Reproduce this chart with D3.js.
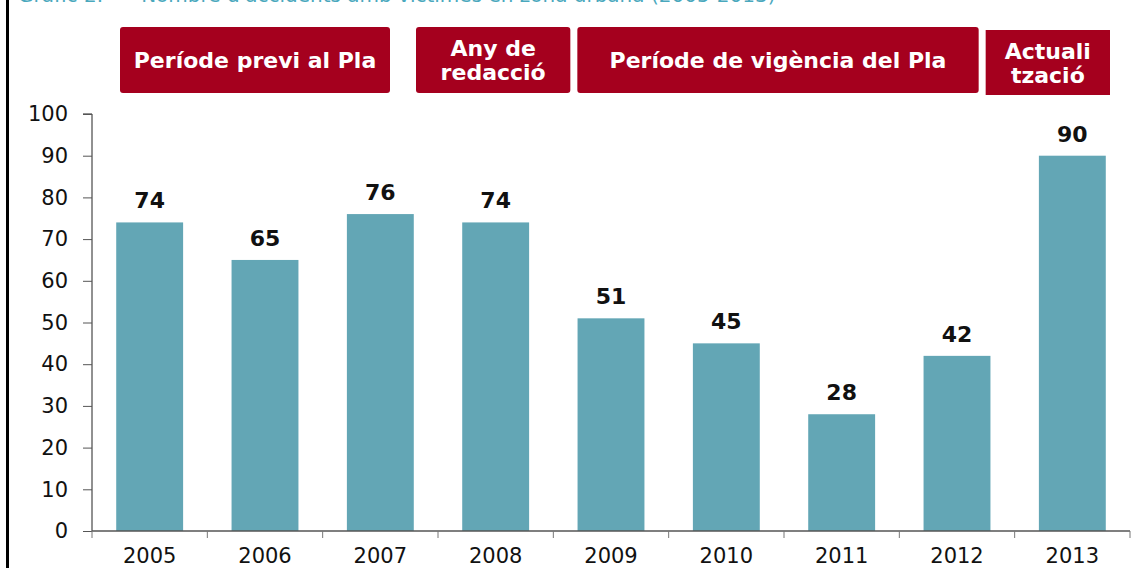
<!DOCTYPE html>
<html>
<head>
<meta charset="utf-8">
<script src="https://cdnjs.cloudflare.com/ajax/libs/d3/7.8.5/d3.min.js"></script>
<style>
  body { margin: 0; background: #fff; }
  svg { display: block; font-family: "DejaVu Sans", Verdana, sans-serif; }
</style>
</head>
<body>
<script>
// accidents amb víctimes en zona urbana
var years = ["2005", "2006", "2007", "2008", "2009", "2010", "2011", "2012", "2013"];
var accidents = [74, 65, 76, 74, 51, 45, 28, 42, 90];
var yTicks = [0, 10, 20, 30, 40, 50, 60, 70, 80, 90, 100];

// period banners: text lines, first and last year covered
var periodLabels = [["Període previ al Pla"], ["Any de", "redacció"], ["Període de vigència del Pla"], ["Actuali", "tzació"]];
var periodFrom = [0, 3, 4, 8];
var periodTo = [2, 3, 7, 8];

var W = 1138, H = 568;
var margin = { left: 92, right: 1130, top: 114, bottom: 531 };

var svg = d3.select("body").append("svg")
    .attr("width", W)
    .attr("height", H);

// cut-off title at very top
svg.append("text")
    .attr("x", 18)
    .attr("y", 2)
    .attr("fill", "#4aa8bd")
    .attr("font-size", 20)
    .attr("xml:space", "preserve")
    .text("Gràfic 2.      Nombre d'accidents amb víctimes en zona urbana (2005-2013)");

// black frame line on the left
svg.append("line")
    .attr("x1", 7.5).attr("x2", 7.5)
    .attr("y1", 0).attr("y2", H)
    .attr("stroke", "#000")
    .attr("stroke-width", 3);

var x = d3.scaleBand().domain(years).range([margin.left, margin.right]).paddingInner(0.42).paddingOuter(0.21);
var y = d3.scaleLinear().domain([0, 100]).range([margin.bottom, margin.top]);
var step = x.step();
function edge(i) { return margin.left + i * step; }

// banners (offsets from category edges)
var offs = [[28, -48], [-22, 17], [24, -36], [-29, -20]];
var bannerTop = [27, 27, 27, 30];
var bannerH = [66, 66, 66, 65];
periodLabels.forEach(function (lines, i) {
    var x0 = edge(periodFrom[i]) + offs[i][0];
    var x1 = edge(periodTo[i] + 1) + offs[i][1];
    var g = svg.append("g");
    g.append("rect")
        .attr("x", x0).attr("y", bannerTop[i])
        .attr("width", x1 - x0).attr("height", bannerH[i])
        .attr("rx", i == 3 ? 0 : 3)
        .attr("fill", "#a5001e");
    var cx = (x0 + x1) / 2, cy = bannerTop[i] + bannerH[i] / 2;
    lines.forEach(function (t, j) {
        g.append("text")
            .attr("x", cx)
            .attr("y", cy + (j - (lines.length - 1) / 2) * 24 + 8)
            .attr("text-anchor", "middle")
            .attr("fill", "#fff")
            .attr("font-weight", "bold")
            .attr("font-size", 22)
            .text(t);
    });
});

// y axis
var yAxis = svg.append("g")
    .attr("transform", "translate(" + margin.left + ",0)")
    .call(d3.axisLeft(y).tickValues(yTicks).tickSize(9).tickPadding(15));
yAxis.selectAll("text").attr("font-size", 21).attr("fill", "#111").style("font-family", "DejaVu Sans, Verdana, sans-serif");
yAxis.selectAll("line").attr("stroke", "#555");
yAxis.select(".domain").attr("stroke", "#222").attr("d", "M-9," + margin.top + "H0V" + margin.bottom);

// bars
svg.selectAll(".bar")
    .data(accidents)
    .enter().append("rect")
    .attr("class", "bar")
    .attr("x", function (d, i) { return x(years[i]); })
    .attr("y", function (d) { return y(d); })
    .attr("width", x.bandwidth())
    .attr("height", function (d) { return y(0) - y(d); })
    .attr("fill", "#63a6b5");

// value labels
svg.selectAll(".val")
    .data(accidents)
    .enter().append("text")
    .attr("class", "val")
    .attr("x", function (d, i) { return x(years[i]) + x.bandwidth() / 2; })
    .attr("y", function (d) { return y(d) - 14; })
    .attr("text-anchor", "middle")
    .attr("font-weight", "bold")
    .attr("font-size", 22)
    .attr("fill", "#111")
    .text(function (d) { return d; });

// x axis: ticks at category boundaries
var xAxis = svg.append("g").attr("transform", "translate(0," + margin.bottom + ")");
xAxis.append("line")
    .attr("x1", margin.left).attr("x2", margin.right)
    .attr("stroke", "#555").attr("stroke-width", 1.5);
xAxis.selectAll(".tk")
    .data(d3.range(years.length + 1))
    .enter().append("line")
    .attr("x1", function (i) { return edge(i); })
    .attr("x2", function (i) { return edge(i); })
    .attr("y1", 0).attr("y2", 7)
    .attr("stroke", "#777");
xAxis.selectAll(".lbl")
    .data(years)
    .enter().append("text")
    .attr("x", function (d) { return x(d) + x.bandwidth() / 2; })
    .attr("y", 32)
    .attr("text-anchor", "middle")
    .attr("font-size", 21)
    .attr("fill", "#111")
    .text(function (d) { return d; });
</script>
</body>
</html>
